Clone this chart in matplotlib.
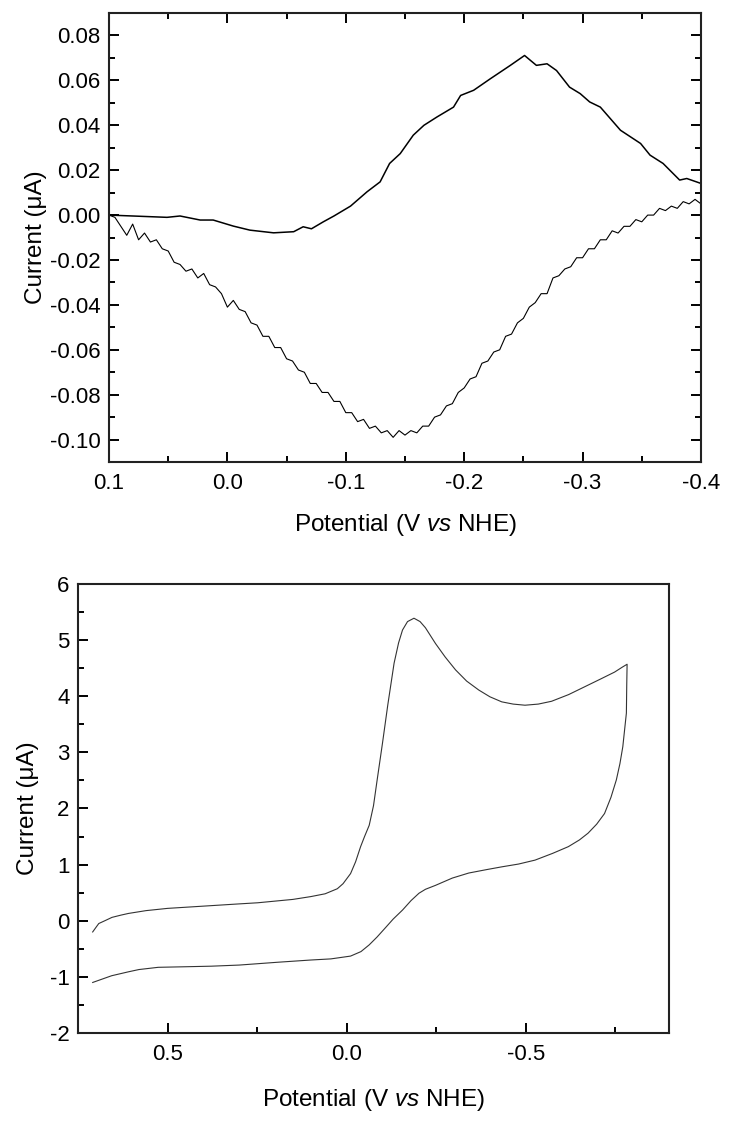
import numpy as np
import matplotlib
matplotlib.use("Agg")
import matplotlib.pyplot as plt
from matplotlib.ticker import MultipleLocator, FuncFormatter

plt.rcParams['font.family'] = ['Liberation Sans', 'DejaVu Sans']
plt.rcParams['mathtext.fontset'] = 'custom'
plt.rcParams['mathtext.rm'] = 'Liberation Sans'
plt.rcParams['mathtext.it'] = 'Liberation Sans:italic'
plt.rcParams['axes.unicode_minus'] = False

# --- panel superior: CV a baja corriente (ruidosa) ---
# barrido catodico (rama inferior), paso de 0.005 V
E_bajo = [0.100, 0.095, 0.090, 0.085, 0.080, 0.075, 0.070, 0.065, 0.060, 0.055,
          0.050, 0.045, 0.040, 0.035, 0.030, 0.025, 0.020, 0.015, 0.010, 0.005,
          0.000, -0.005, -0.010, -0.015, -0.020, -0.025, -0.030, -0.035, -0.040, -0.045,
          -0.050, -0.055, -0.060, -0.065, -0.070, -0.075, -0.080, -0.085, -0.090, -0.095,
          -0.100, -0.105, -0.110, -0.115, -0.120, -0.125, -0.130, -0.135, -0.140, -0.145,
          -0.150, -0.155, -0.160, -0.165, -0.170, -0.175, -0.180, -0.185, -0.190, -0.195,
          -0.200, -0.205, -0.210, -0.215, -0.220, -0.225, -0.230, -0.235, -0.240, -0.245,
          -0.250, -0.255, -0.260, -0.265, -0.270, -0.275, -0.280, -0.285, -0.290, -0.295,
          -0.300, -0.305, -0.310, -0.315, -0.320, -0.325, -0.330, -0.335, -0.340, -0.345,
          -0.350, -0.355, -0.360, -0.365, -0.370, -0.375, -0.380, -0.385, -0.390, -0.395,
          -0.400]
I_bajo = [0.000, -0.001, -0.005, -0.009, -0.004, -0.011, -0.008, -0.012, -0.011, -0.015,
          -0.016, -0.021, -0.022, -0.025, -0.024, -0.028, -0.026, -0.031, -0.032, -0.035,
          -0.041, -0.038, -0.042, -0.043, -0.048, -0.049, -0.054, -0.054, -0.059, -0.059,
          -0.064, -0.065, -0.069, -0.070, -0.075, -0.075, -0.079, -0.079, -0.083, -0.083,
          -0.088, -0.088, -0.092, -0.091, -0.095, -0.094, -0.097, -0.096, -0.099, -0.096,
          -0.098, -0.096, -0.097, -0.094, -0.094, -0.090, -0.089, -0.085, -0.084, -0.079,
          -0.077, -0.073, -0.072, -0.066, -0.065, -0.061, -0.060, -0.054, -0.053, -0.048,
          -0.046, -0.041, -0.039, -0.035, -0.035, -0.028, -0.027, -0.024, -0.023, -0.019,
          -0.019, -0.015, -0.015, -0.011, -0.011, -0.007, -0.008, -0.005, -0.005, -0.002,
          -0.003, 0.000, 0.000, 0.003, 0.002, 0.004, 0.003, 0.006, 0.005, 0.007,
          0.005]

# barrido anodico (rama superior)
E_alto = [0.100, 0.080, 0.051, 0.040, 0.023, 0.012, -0.005, -0.019, -0.039, -0.056,
          -0.064, -0.071, -0.081, -0.090, -0.104, -0.118, -0.129, -0.137, -0.146, -0.157,
          -0.166, -0.177, -0.191, -0.197, -0.208, -0.222, -0.239, -0.251, -0.261, -0.270,
          -0.278, -0.289, -0.298, -0.306, -0.315, -0.332, -0.349, -0.357, -0.368, -0.382,
          -0.388, -0.400]
I_alto = [0.0000, -0.0004, -0.0010, -0.0004, -0.0022, -0.0022, -0.0049, -0.0067, -0.0079, -0.0074,
          -0.0052, -0.0061, -0.0030, -0.0004, 0.0040, 0.0104, 0.0148, 0.0230, 0.0274, 0.0356,
          0.0400, 0.0437, 0.0481, 0.0533, 0.0556, 0.0607, 0.0667, 0.0711, 0.0667, 0.0674,
          0.0644, 0.0570, 0.0541, 0.0504, 0.0481, 0.0378, 0.0319, 0.0267, 0.0230, 0.0156,
          0.0163, 0.0141]

# --- panel inferior: CV a alta corriente (ciclo completo) ---
E_ciclo = [0.709, 0.700, 0.692, 0.675, 0.655, 0.630, 0.609, 0.560, 0.500, 0.400,
           0.300, 0.248, 0.150, 0.100, 0.060, 0.026, 0.010, -0.011, -0.025, -0.039,
           -0.050, -0.063, -0.075, -0.085, -0.100, -0.115, -0.1325, -0.145, -0.156, -0.170,
           -0.188, -0.205, -0.220, -0.248, -0.275, -0.304, -0.335, -0.369, -0.400, -0.433,
           -0.465, -0.498, -0.535, -0.572, -0.620, -0.665, -0.710, -0.748, -0.770, -0.783,
           -0.782, -0.781, -0.776, -0.771, -0.763, -0.753, -0.738, -0.720, -0.698, -0.674,
           -0.650, -0.619, -0.575, -0.526, -0.480, -0.433, -0.390, -0.341, -0.295, -0.248,
           -0.220, -0.202, -0.180, -0.156, -0.130, -0.109, -0.085, -0.063, -0.040, -0.011,
           0.044, 0.100, 0.193, 0.300, 0.378, 0.450, 0.526, 0.580, 0.609, 0.656,
           0.709]
I_ciclo = [-0.20, -0.12, -0.05, 0.00, 0.06, 0.10, 0.13, 0.18, 0.22, 0.26,
           0.30, 0.32, 0.38, 0.43, 0.48, 0.57, 0.66, 0.84, 1.05, 1.32,
           1.50, 1.70, 2.05, 2.50, 3.16, 3.85, 4.59, 4.95, 5.18, 5.33,
           5.39, 5.33, 5.22, 4.94, 4.70, 4.47, 4.27, 4.11, 3.99, 3.90,
           3.86, 3.84, 3.86, 3.91, 4.03, 4.17, 4.31, 4.43, 4.52, 4.57,
           4.20, 3.70, 3.40, 3.10, 2.80, 2.51, 2.20, 1.91, 1.72, 1.56,
           1.44, 1.32, 1.20, 1.08, 1.01, 0.96, 0.91, 0.85, 0.76, 0.63,
           0.56, 0.49, 0.36, 0.19, 0.03, -0.12, -0.29, -0.43, -0.55, -0.63,
           -0.68, -0.70, -0.74, -0.79, -0.81, -0.82, -0.83, -0.87, -0.91, -0.98,
           -1.10]


def fmt(dec):
    # evita que aparezca "-0.00"
    def f(v, pos):
        v = round(v, dec) + 0.0
        if v == 0:
            v = 0.0
        return f"{v:.{dec}f}"
    return FuncFormatter(f)


fig = plt.figure(figsize=(7.33, 11.25), dpi=100)
ax1 = fig.add_axes([0.1487, 0.5893, 0.8076, 0.3991])
ax2 = fig.add_axes([0.1064, 0.0818, 0.8063, 0.3991])

# panel superior
ax1.plot(E_bajo, I_bajo, color='black', linewidth=0.8)
ax1.plot(E_alto, I_alto, color='black', linewidth=1.1)
ax1.set_xlim(0.1, -0.4)
ax1.set_ylim(-0.11, 0.09)
ax1.xaxis.set_major_locator(MultipleLocator(0.1))
ax1.xaxis.set_minor_locator(MultipleLocator(0.05))
ax1.yaxis.set_major_locator(MultipleLocator(0.02))
ax1.yaxis.set_minor_locator(MultipleLocator(0.01))
ax1.xaxis.set_major_formatter(fmt(1))
ax1.yaxis.set_major_formatter(fmt(2))
ax1.tick_params(which='both', direction='in', top=True, right=True, width=1.4, labelsize=16)
ax1.tick_params(which='major', length=7)
ax1.tick_params(which='minor', length=4.3)
ax1.tick_params(axis='x', pad=8)
ax1.tick_params(axis='y', pad=6)
ax1.set_xlabel("Potential (V $\\it{vs}$ NHE)", fontsize=17.5, labelpad=13)
ax1.set_ylabel("Current (\u03bcA)", fontsize=17.5, labelpad=2)

# panel inferior
ax2.plot(E_ciclo, I_ciclo, color='#333333', linewidth=0.8)
ax2.set_xlim(0.75, -0.9)
ax2.set_ylim(-2, 6)
ax2.xaxis.set_major_locator(MultipleLocator(0.5))
ax2.xaxis.set_minor_locator(MultipleLocator(0.25))
ax2.yaxis.set_major_locator(MultipleLocator(1))
ax2.yaxis.set_minor_locator(MultipleLocator(0.5))
ax2.xaxis.set_major_formatter(fmt(1))
ax2.yaxis.set_major_formatter(fmt(0))
ax2.tick_params(which='both', direction='in', width=1.4, labelsize=16)
ax2.tick_params(which='major', length=7)
ax2.tick_params(which='minor', length=4.3)
ax2.tick_params(axis='x', pad=8)
ax2.tick_params(axis='y', pad=6)
ax2.set_xlabel("Potential (V $\\it{vs}$ NHE)", fontsize=17.5, labelpad=16)
ax2.set_ylabel("Current (\u03bcA)", fontsize=17.5, labelpad=8)

for ax in (ax1, ax2):
    for s in ax.spines.values():
        s.set_linewidth(1.5)
        s.set_color('#222222')

fig.savefig("out.png", dpi=100)
